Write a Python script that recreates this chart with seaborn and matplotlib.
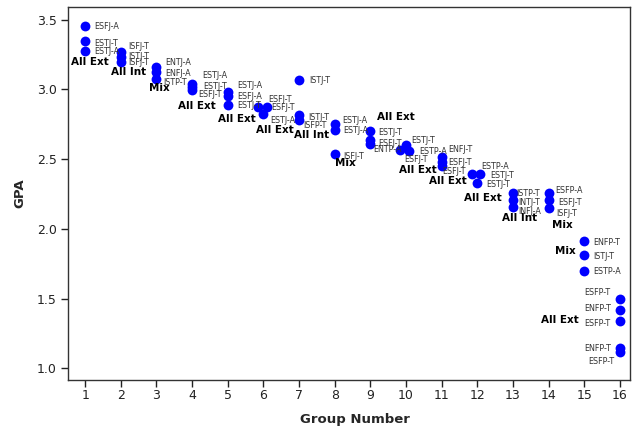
import matplotlib
matplotlib.use("Agg")
import matplotlib.pyplot as plt
import seaborn as sns
import pandas as pd

# ---- data ----
group_x = [1, 1, 1,
           2, 2, 2,
           3, 3, 3,
           4, 4, 4,
           5, 5, 5,
           5.86, 6.09, 6.0,
           7, 7, 7,
           8, 8, 8,
           9, 9, 9,
           9.83, 9.99, 10.09,
           11, 11, 11,
           11.84, 12.07, 11.98,
           13, 13, 13,
           14, 14, 14,
           15, 15, 15,
           16, 16, 16, 16, 16]
gpa = [3.452, 3.344, 3.278,
       3.265, 3.23, 3.196,
       3.16, 3.124, 3.077,
       3.04, 3.015, 2.995,
       2.981, 2.95, 2.885,
       2.873, 2.873, 2.826,
       3.07, 2.813, 2.783,
       2.754, 2.711, 2.534,
       2.70, 2.634, 2.61,
       2.562, 2.598, 2.557,
       2.512, 2.48, 2.448,
       2.39, 2.39, 2.326,
       2.254, 2.204, 2.154,
       2.254, 2.204, 2.147,
       1.912, 1.811, 1.70,
       1.50, 1.42, 1.336, 1.147, 1.115]
types = ["ESFJ-A", "ESTJ-T", "ESTJ-A",
         "ISFJ-T", "ISTJ-T", "ISFJ-T",
         "ENTJ-A", "ENFJ-A", "ISTP-T",
         "ESTJ-A", "ESTJ-T", "ESFJ-T",
         "ESTJ-A", "ESFJ-A", "ESTJ-T",
         "ESFJ-T", "ESFJ-T", "ESTJ-A",
         "ISTJ-T", "ISTJ-T", "ISFP-T",
         "ESTJ-A", "ESTJ-A", "ISFJ-T",
         "ESTJ-T", "ESFJ-T", "ENTP-A",
         "ESFJ-T", "ESTJ-T", "ESTP-A",
         "ENFJ-T", "ESFJ-T", "ESFJ-T",
         "ESTP-A", "ESTJ-T", "ESTJ-T",
         "ISTP-T", "INTJ-T", "INFJ-A",
         "ESFP-A", "ESFJ-T", "ISFJ-T",
         "ENFP-T", "ISTJ-T", "ESTP-A",
         "ESFP-T", "ENFP-T", "ESFP-T", "ENFP-T", "ESFP-T"]

group_names = ["All Ext", "All Int", "Mix", "All Ext", "All Ext", "All Ext",
               "All Int", "Mix", "All Ext", "All Ext", "All Ext", "All Ext",
               "All Int", "Mix", "Mix", "All Ext"]

x_ticks = list(range(1, 17))
y_ticks = [1.0, 1.5, 2.0, 2.5, 3.0, 3.5]

# ---- layout (label offsets in pixels: dx right, dy down) ----
label_offsets = [(9, 0), (9, 2), (9, 1),
                 (7.5, -6), (7.5, -1), (7.5, 0.5),
                 (9, -4), (9, 1), (7, 3.5),
                 (10, -8), (11, -1), (6, 5),
                 (9, -6), (9, 0), (9, 0),
                 (9.4, -7.7), (5, 0), (6.7, 6.7),
                 (10, 0.7), (9.4, 2), (4.4, 6),
                 (7.7, -3), (9, 1), (8.3, 2),
                 (8.3, 1), (8.3, 3.3), (2.7, 6),
                 (4.3, 9.3), (5.3, -5), (9.7, 0.3),
                 (7, -8), (7, 1), (1, 5.7),
                 (10, -8), (10, 1.3), (9.3, 1.3),
                 (3.3, 0), (5.6, 2), (5, 4),
                 (6.3, -3), (9.6, 2), (7.3, 5),
                 (8.4, 1), (8.4, 1.3), (8.4, 1),
                 (-10, -6), (-9.3, -1), (-10, 2.3), (-8.6, 1), (-6, 9)]
group_label_pos = [(1.14, 3.194), (2.22, 3.124), (3.07, 3.007), (4.126, 2.882),
                   (5.248, 2.790), (6.327, 2.711), (7.356, 2.670), (8.289, 2.474),
                   (9.719, 2.801), (10.336, 2.419), (11.163, 2.340), (12.144, 2.223),
                   (13.181, 2.080), (14.373, 2.024), (14.457, 1.843), (14.317, 1.348)]

df = pd.DataFrame({"Group Number": group_x, "GPA": gpa, "Type": types})

sns.set_style("ticks")
plt.rcParams["font.family"] = ["DejaVu Sans"]

fig = plt.figure(figsize=(6.37, 4.30), dpi=100)
ax = fig.add_axes([68 / 637, 50 / 430, 562 / 637, 373 / 430])

sns.scatterplot(data=df, x="Group Number", y="GPA", ax=ax, color="#0000ff",
                s=50, edgecolor="#0000ff", linewidth=0, zorder=3)

for xv, yv, t, (dx, dy) in zip(group_x, gpa, types, label_offsets):
    ax.annotate(t, (xv, yv), xytext=(dx, -dy), textcoords="offset pixels",
                ha="left" if dx >= 0 else "right", va="center",
                fontsize=5.8, color="#333333")

for name, (gx, gy) in zip(group_names, group_label_pos):
    ax.text(gx, gy, name, ha="center", va="center", fontsize=7.5,
            fontweight="bold", color="black")

ax.set_xlim(0.52, 16.28)
ax.set_ylim(0.916, 3.59)
ax.set_xticks(x_ticks)
ax.set_yticks(y_ticks)
ax.set_yticklabels([f"{v:.1f}" for v in y_ticks])
ax.tick_params(axis="both", direction="out", length=5, width=1,
               labelsize=9, colors="#222222")
ax.tick_params(axis="x", pad=1.5)
ax.tick_params(axis="y", pad=3)
for sp in ax.spines.values():
    sp.set_visible(True)
    sp.set_color("#333333")
    sp.set_linewidth(1)

ax.set_xlabel("Group Number", fontsize=9.5, fontweight="bold", va="center")
ax.xaxis.set_label_coords(0.51, -0.107)
ax.set_ylabel("GPA", fontsize=9.5, fontweight="bold", labelpad=8)

fig.savefig("out.png", dpi=100)
